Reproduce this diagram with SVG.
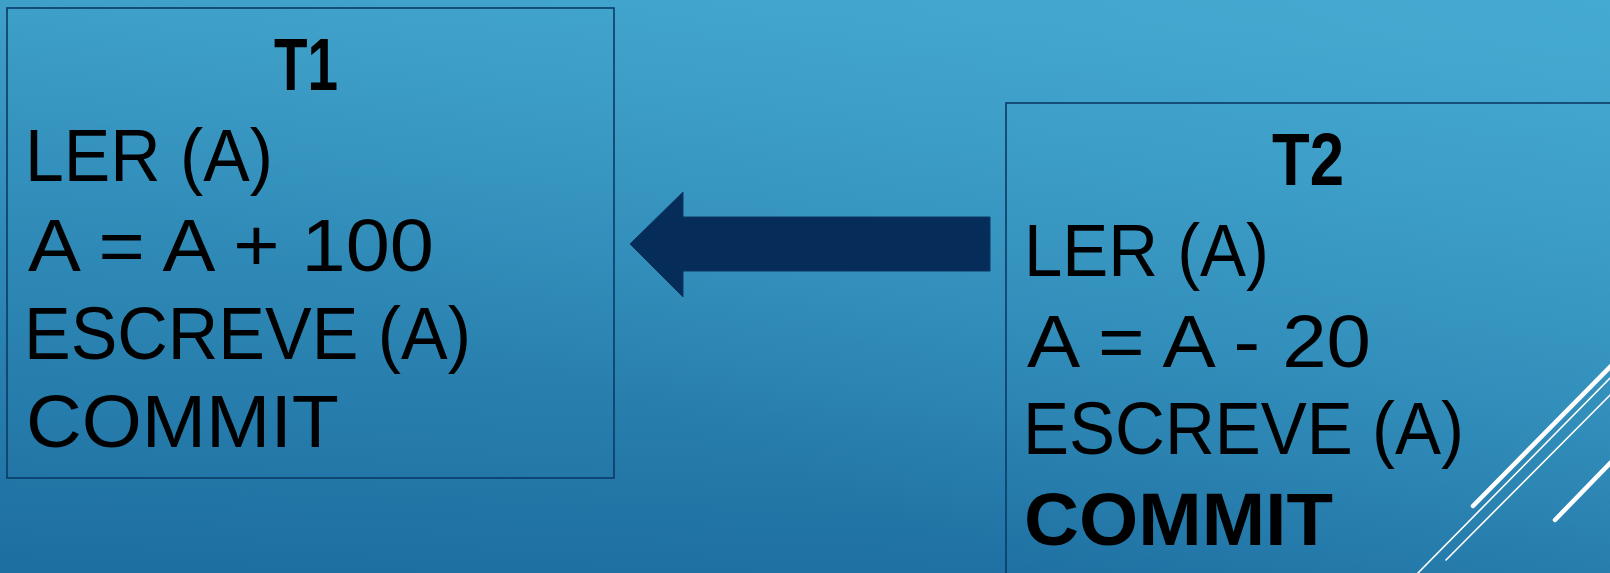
<svg xmlns="http://www.w3.org/2000/svg" width="1610" height="573" viewBox="0 0 1610 573">
<defs>
<linearGradient id="bg" x1="0.3" y1="0" x2="0.2" y2="1">
<stop offset="0" stop-color="#3e9fc8"/>
<stop offset="1" stop-color="#1d6fa1"/>
</linearGradient>
<linearGradient id="bg2" x1="1" y1="0" x2="0.3" y2="0.6">
<stop offset="0" stop-color="#49b0d6" stop-opacity="0.6"/>
<stop offset="1" stop-color="#49b0d6" stop-opacity="0"/>
</linearGradient>
<style>
.box{fill:none;stroke:#0c3a66;stroke-width:1.6}
.t{font-family:"Liberation Sans",Arial,sans-serif;font-size:75px;fill:#000}
.b{font-weight:bold}
.w{stroke:#fff;stroke-linecap:round;fill:none}
</style>
</defs>
<rect width="1610" height="573" fill="url(#bg)"/>
<rect width="1610" height="573" fill="url(#bg2)"/>
<g id="T1">
<rect class="box" x="7" y="8" width="607" height="470"/>
<text class="t b" x="274" y="90" textLength="64" lengthAdjust="spacingAndGlyphs">T1</text>
<text class="t" x="25" y="181" textLength="248" lengthAdjust="spacingAndGlyphs">LER (A)</text>
<text class="t" x="28" y="271" textLength="406" lengthAdjust="spacingAndGlyphs">A = A + 100</text>
<text class="t" x="24" y="359" textLength="447" lengthAdjust="spacingAndGlyphs">ESCREVE (A)</text>
<text class="t" x="26" y="447" textLength="313" lengthAdjust="spacingAndGlyphs">COMMIT</text>
</g>
<g id="T2">
<rect class="box" x="1006" y="103" width="640" height="500"/>
<text class="t b" x="1272" y="185" textLength="72" lengthAdjust="spacingAndGlyphs">T2</text>
<text class="t" x="1024" y="276" textLength="245" lengthAdjust="spacingAndGlyphs">LER (A)</text>
<text class="t" x="1027" y="367" textLength="344" lengthAdjust="spacingAndGlyphs">A = A - 20</text>
<text class="t" x="1023" y="454" textLength="441" lengthAdjust="spacingAndGlyphs">ESCREVE (A)</text>
<text class="t b" x="1024" y="545" textLength="309" lengthAdjust="spacingAndGlyphs">COMMIT</text>
</g>
<g id="connectors">
<polygon points="990,217 683,217 683,192 630,244 683,297 683,271 990,271" fill="#062d5a" stroke="#0a3761" stroke-width="1"/>
</g>
<g id="decor">
<line class="w" x1="1473" y1="506" x2="1615" y2="362" stroke-width="4.5"/>
<line class="w" x1="1417" y1="574" x2="1615" y2="373" stroke-width="1.6"/>
<line class="w" x1="1446" y1="560" x2="1615" y2="390" stroke-width="1.6"/>
<line class="w" x1="1555" y1="520" x2="1615" y2="458" stroke-width="4.5"/>
</g>
</svg>
